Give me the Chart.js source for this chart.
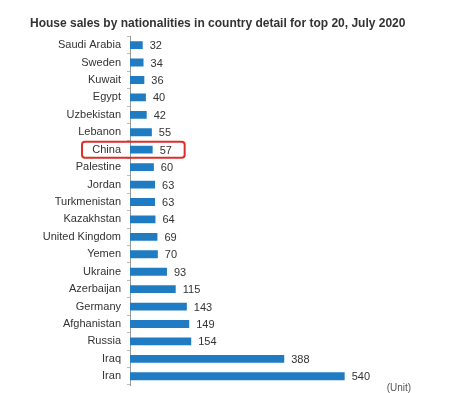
<!DOCTYPE html>
<html>
<head>
<meta charset="utf-8">
<script src="https://cdn.jsdelivr.net/npm/chart.js@4.4.0/dist/chart.umd.min.js"></script>
<style>
  html, body { margin: 0; padding: 0; background: #fff; }
  #wrap { width: 472px; height: 393px; }
</style>
</head>
<body>
<div id="wrap"><canvas id="chart" width="472" height="393"></canvas></div>
<script>
const countries = ['Saudi Arabia', 'Sweden', 'Kuwait', 'Egypt', 'Uzbekistan', 'Lebanon', 'China',
  'Palestine', 'Jordan', 'Turkmenistan', 'Kazakhstan', 'United Kingdom', 'Yemen', 'Ukraine',
  'Azerbaijan', 'Germany', 'Afghanistan', 'Russia', 'Iraq', 'Iran'];
const sales = [32, 34, 36, 40, 42, 55, 57, 60, 63, 63, 64, 69, 70, 93, 115, 143, 149, 154, 388, 540];
const highlight = 'China';
const unitLabel = '(Unit)';
const titleText = 'House sales by nationalities in country detail for top 20, July 2020';

const FONT = 'Arial, "Liberation Sans", sans-serif';

// numbers to the right of each bar
const valueLabels = {
  id: 'valueLabels',
  afterDatasetsDraw(chart) {
    const ctx = chart.ctx;
    const meta = chart.getDatasetMeta(0);
    ctx.save();
    ctx.font = '11px ' + FONT;
    ctx.fillStyle = '#333';
    ctx.textAlign = 'left';
    ctx.textBaseline = 'middle';
    meta.data.forEach((bar, i) => {
      ctx.fillText(sales[i], bar.x + 7, bar.y + 1);
    });
    ctx.restore();
  }
};

// red box round the highlighted row, plus the unit note
const extras = {
  id: 'extras',
  afterDraw(chart) {
    const ctx = chart.ctx;
    const ys = chart.scales.y;
    const xs = chart.scales.x;
    const i = countries.indexOf(highlight);
    const yc = ys.getPixelForValue(i);
    const left = chart.chartArea.left - 48;
    const right = xs.getPixelForValue(sales[i]) + 32;
    ctx.save();
    ctx.strokeStyle = '#dc2f2a';
    ctx.lineWidth = 2;
    ctx.beginPath();
    ctx.roundRect(left, yc - 8, right - left, 16, 3);
    ctx.stroke();

    ctx.font = '10px ' + FONT;
    ctx.fillStyle = '#555';
    ctx.textAlign = 'left';
    ctx.textBaseline = 'middle';
    ctx.fillText(unitLabel, xs.getPixelForValue(sales[sales.length - 1]) + 42, chart.chartArea.bottom + 3);
    ctx.restore();
  }
};

new Chart(document.getElementById('chart'), {
  type: 'bar',
  data: {
    labels: countries,
    datasets: [{
      data: sales,
      backgroundColor: '#1f7cc2',
      barPercentage: 0.5,
      categoryPercentage: 0.9
    }]
  },
  options: {
    indexAxis: 'y',
    responsive: false,
    animation: false,
    layout: { padding: { left: 30, right: 24, top: 0, bottom: 8 } },
    plugins: {
      legend: { display: false },
      tooltip: { enabled: false },
      title: {
        display: true,
        text: titleText,
        align: 'start',
        color: '#333',
        font: { family: FONT, size: 12, weight: 'bold' },
        padding: { top: 16, bottom: 6 }
      }
    },
    scales: {
      x: { display: false, min: 0, max: 800 },
      y: {
        afterFit(scale) {
          scale.width = 100;
          scale.paddingTop = 0;
          scale.paddingBottom = 0;
        },
        border: { display: true, color: '#999' },
        grid: { drawOnChartArea: false, drawTicks: true, tickLength: 3, color: '#bbb' },
        ticks: { color: '#333', font: { family: FONT, size: 11 }, padding: 6, autoSkip: false }
      }
    }
  },
  plugins: [valueLabels, extras]
});
</script>
</body>
</html>
